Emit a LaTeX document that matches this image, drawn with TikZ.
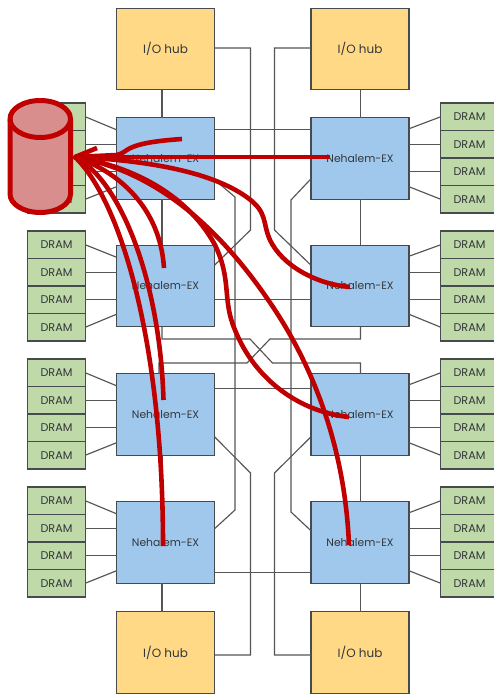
\documentclass[tikz,border=0pt]{standalone}
\usepackage{fontspec}
\setmainfont{Poppins}
\definecolor{hubfill}{RGB}{255,217,133}
\definecolor{cpufill}{RGB}{160,200,236}
\definecolor{memfill}{RGB}{191,217,168}
\definecolor{edge}{RGB}{70,75,80}
\definecolor{wire}{RGB}{85,85,85}
\definecolor{ink}{RGB}{50,55,60}
\definecolor{redline}{RGB}{192,0,0}
\definecolor{drumfill}{RGB}{217,142,142}
\tikzset{
  boxbase/.style={draw=edge,line width=1.1pt,inner sep=0pt,outer sep=0pt,text=ink},
  hubbox/.style={boxbase,fill=hubfill,minimum width=98pt,minimum height=81.5pt,font=\fontsize{12}{14}\selectfont},
  cpubox/.style={boxbase,fill=cpufill,minimum width=98pt,minimum height=81.5pt,font=\fontsize{10.8}{13}\selectfont},
  membox/.style={boxbase,fill=memfill,minimum width=57.5pt,minimum height=27.5pt,font=\fontsize{11.2}{13}\selectfont},
  wireline/.style={draw=wire,line width=1.15pt},
  busline/.style={draw=wire,line width=1.6pt},
  redcurve/.style={draw=redline,line width=4.6pt,line join=round},
  drum/.style={draw=redline,line width=5pt,fill=drumfill},
}
\begin{document}
\begin{tikzpicture}[x=1pt,y=-1pt]
\useasboundingbox (0,0) rectangle (494,694);
\clip (0,0) rectangle (494,694);
\fill[white] (0,0) rectangle (494,694);
% hubs
\node[hubbox] (IOTL) at (165.5,49) {I/O hub};
\node[hubbox] (IOTR) at (360,49) {I/O hub};
\node[hubbox] (IOBL) at (165.5,652.5) {I/O hub};
\node[hubbox] (IOBR) at (360,652.5) {I/O hub};
% processors and memory
\foreach \i/\c/\t in {1/158.5/103,2/286/231,3/414.5/359,4/542.5/487}{
  \node[cpubox] (NL\i) at (165.5,\c) {Nehalem-EX};
  \node[cpubox] (NR\i) at (360,\c) {Nehalem-EX};
  \foreach \j/\o in {1/13.75,2/41.25,3/68.75,4/96.25}{
    \pgfmathsetmacro{\yy}{\t+\o}
    \node[membox] (DL\i\j) at (56.5,\yy) {DRAM};
    \node[membox] (DR\i\j) at (469.5,\yy) {DRAM};
  }
  \draw[wireline] (DL\i1.east) -- ([yshift=-12pt]NL\i.north west);
  \draw[wireline] (DL\i2.east) -- (DL\i2.east -| NL\i.west);
  \draw[wireline] (DL\i3.east) -- (DL\i3.east -| NL\i.west);
  \draw[wireline] (DL\i4.east) -- ([yshift=-69pt]NL\i.north west);
  \draw[wireline] (DR\i1.west) -- ([yshift=-11pt]NR\i.north east);
  \draw[wireline] (DR\i2.west) -- (DR\i2.west -| NR\i.east);
  \draw[wireline] (DR\i3.west) -- (DR\i3.west -| NR\i.east);
  \draw[wireline] (DR\i4.west) -- ([yshift=-69pt]NR\i.north east);
}
\coordinate (lv) at (162,0);
\coordinate (lw) at (159,0);
\coordinate (rv) at (360.5,0);
% vertical links
\draw[busline] (IOTL.south -| lv) -- (NL1.north -| lv);
\draw[busline] (IOTR.south -| rv) -- (NR1.north -| rv);
\draw[busline] (NL1.south -| lv) -- (NL2.north -| lv);
\draw[busline] (NR1.south -| rv) -- (NR2.north -| rv);
\draw[busline] (NL3.south -| lv) -- (NL4.north -| lv);
\draw[busline] (NR3.south -| rv) -- (NR4.north -| rv);
\draw[busline] (NL4.south -| lv) -- (IOBL.north -| lv);
\draw[busline] (NR4.south -| rv) -- (IOBR.north -| rv);
% rows
\draw[wireline] ([yshift=-12pt]NL1.north east) -- ([yshift=-12pt]NR1.north west);
\draw[wireline] ([yshift=-54pt]NL2.north east) -- ([yshift=-54pt]NR2.north west);
\draw[wireline] ([yshift=-15pt]NL3.north east) -- ([yshift=-15pt]NR3.north west);
\draw[wireline] ([yshift=-71pt]NL4.north east) -- ([yshift=-71pt]NR4.north west);
% hub routes
\draw[wireline] ([yshift=1pt]IOTL.east) -- (250.5,48) -- (250.5,230) -- ([yshift=-20pt]NL2.north east);
\draw[wireline] ([yshift=1pt]IOTR.west) -- (274.5,48) -- (274.5,230) -- ([yshift=-20pt]NR2.north west);
\draw[wireline] ([yshift=-63pt]NL3.north east) -- (250.5,473) -- (250.5,655) -- ([yshift=-2.5pt]IOBL.east);
\draw[wireline] ([yshift=-63pt]NR3.north west) -- (274.5,473) -- (274.5,655) -- ([yshift=-2.5pt]IOBR.west);
% long vertical routes
\draw[wireline] ([yshift=-62pt]NL1.north east) -- (235,197) -- (235,510) -- ([yshift=-27pt]NL4.north east);
\draw[wireline] ([yshift=-61pt]NR1.north west) -- (291,200) -- (291,512) -- ([yshift=-29pt]NR4.north west);
% crossing
\draw[wireline] (NL2.south -| lv) -- (162,339) -- (250,339) -- (272.5,363) -- (360.5,363) -- (NR3.north -| rv);
\draw[wireline] (NL3.north -| lw) -- (159,363) -- (247,363) -- (270,339) -- (360.5,339) -- (NR2.south -| rv);
% storage drum
\path[drum] (10,119) -- (10,194) arc[start angle=180,end angle=360,x radius=30.25pt,y radius=18.5pt] -- (70.5,119) arc[start angle=0,end angle=180,x radius=30.25pt,y radius=18.5pt] -- cycle;
\draw[drum,fill=none] (10,119) arc[start angle=180,end angle=360,x radius=30.25pt,y radius=18.5pt];
% red accesses
\coordinate (tip) at (75,157);
\coordinate (endA) at (182,139);
\coordinate (endB) at (330,157);
\coordinate (endC) at (350,287);
\coordinate (endD) at (349,417);
\coordinate (endE) at (349,545);
\coordinate (endF) at (164,268);
\coordinate (endG) at (163.5,400);
\coordinate (endH) at (163,546);
\draw[redcurve] (97,148) -- (tip) -- (99,165);
\draw[redcurve] (tip) -- (117,155) .. controls (130,152) and (122,143) .. (endA);
\draw[redcurve] (tip) -- (endB);
\draw[redcurve] (tip) .. controls (140,160) and (210,170) .. (248,198) .. controls (268,213) and (262,222) .. (270,240) .. controls (282,265) and (315,284) .. (endC);
\draw[redcurve] (tip) .. controls (125,165) and (185,190) .. (215,245) .. controls (232,280) and (222,300) .. (235,330) .. controls (255,380) and (300,412) .. (endD);
\draw[redcurve] (tip) .. controls (150,170) and (215,220) .. (273,307) .. controls (315,370) and (345,450) .. (endE);
\draw[redcurve] (tip) .. controls (115,170) and (160,205) .. (endF);
\draw[redcurve] (tip) .. controls (120,180) and (160,280) .. (endG);
\draw[redcurve] (tip) .. controls (120,200) and (163,340) .. (endH);
\end{tikzpicture}
\end{document}
